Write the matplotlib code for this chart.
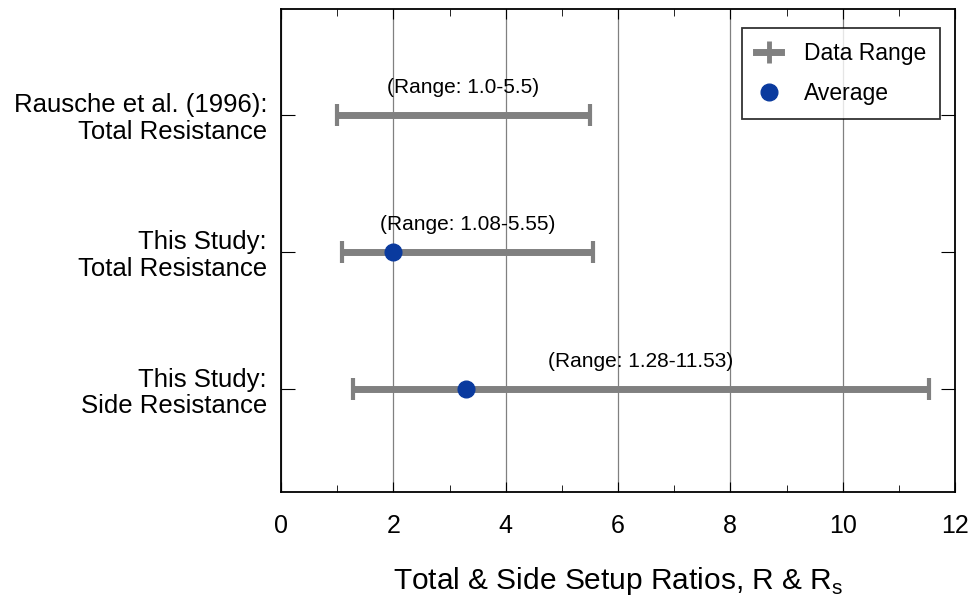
import matplotlib.pyplot as plt
from matplotlib.lines import Line2D
from matplotlib.ticker import MultipleLocator

plt.rcParams['font.family'] = ['Liberation Sans', 'DejaVu Sans']

# data
labels = ["Rausche et al. (1996):\nTotal Resistance",
          "This Study:\nTotal Resistance",
          "This Study:\nSide Resistance"]
y_pos = [2.75, 1.75, 0.75]
range_min = [1.0, 1.08, 1.28]
range_max = [5.5, 5.55, 11.53]
range_text = ["(Range: 1.0-5.5)", "(Range: 1.08-5.55)", "(Range: 1.28-11.53)"]
avg_y = [1.75, 0.75]
avg_x = [2.0, 3.3]

gray = '#808080'
blue = '#0a3a9e'

fig = plt.figure(figsize=(9.74, 5.96), dpi=100)
ax = fig.add_axes([0.2885, 0.1745, 0.692, 0.8104])

ax.grid(axis='x', color='#808080', linewidth=0.9)
ax.set_axisbelow(True)

for y, lo, hi, txt in zip(y_pos, range_min, range_max, range_text):
    mid = (lo + hi) / 2
    ax.errorbar(mid, y, xerr=[[mid - lo], [hi - mid]], fmt='none',
                ecolor=gray, elinewidth=5, capsize=8, capthick=3, zorder=3)
    ax.text(mid, y + 0.13, txt, ha='center', va='bottom', fontsize=15)

ax.plot(avg_x, avg_y, 'o', color=blue, markersize=12, zorder=4, linestyle='none')

ax.set_xlim(0, 12)
ax.set_ylim(0, 3.52)
ax.xaxis.set_major_locator(MultipleLocator(2))
ax.xaxis.set_minor_locator(MultipleLocator(1))
ax.set_yticks(y_pos)
ax.set_yticklabels(labels, fontsize=18.5, linespacing=1.15)
ax.tick_params(axis='x', which='both', direction='in', top=True, labelsize=18, pad=16)
ax.tick_params(axis='x', which='major', length=7)
ax.tick_params(axis='x', which='minor', length=5)
ax.tick_params(axis='y', direction='in', length=10, right=True, pad=10)
ax.set_xlabel("Total & Side Setup Ratios, R & R$_\\mathregular{s}$", fontsize=21.5, labelpad=19)

for s in ax.spines.values():
    s.set_linewidth(1.3)

handles = [Line2D([0], [0], color=gray, linewidth=5, marker='|', markersize=16,
                  markeredgewidth=3.5),
           Line2D([0], [0], color=blue, marker='o', markersize=12, linestyle='none')]
leg = ax.legend(handles, ["Data Range", "Average"], loc='upper right', fontsize=16.5,
                frameon=True, fancybox=False, edgecolor='black',
                borderpad=0.6, handlelength=1.1, handletextpad=1.0, labelspacing=0.75,
                borderaxespad=0, bbox_to_anchor=(0.978, 0.961))
leg.get_frame().set_linewidth(1.3)

plt.savefig('out.png', dpi=100)
